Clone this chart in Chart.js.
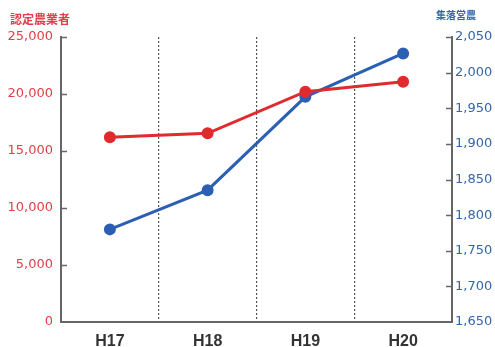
<!DOCTYPE html>
<html>
<head>
<meta charset="utf-8">
<script src="https://cdn.jsdelivr.net/npm/chart.js@4/dist/chart.umd.min.js"></script>
<style>
  html, body { margin: 0; padding: 0; background: #fff; }
  #wrap { width: 495px; height: 347px; }
</style>
</head>
<body>
<div id="wrap"><canvas id="c" width="495" height="347"></canvas></div>
<script>
const categories = ['H17', 'H18', 'H19', 'H20'];
const farmers = [16200, 16550, 20200, 21080];   // 認定農業者 (left axis)
const groups = [1780, 1835, 1966, 2027];        // 集落営農 (right axis)
const leftTitle = '認定農業者';
const rightTitle = '集落営農';
const leftRange = { min: 0, max: 25000, step: 5000 };
const rightRange = { min: 1650, max: 2050, step: 50 };

const RED = '#e02a2e';
const BLUE = '#2b5fb4';
const RED_TXT = '#e0404a';
const BLUE_TXT = '#3566a8';
const AXIS = '#666';

const fmt = v => Number(v).toLocaleString('en-US');

const extras = {
  id: 'extras',
  beforeDatasetsDraw(chart) {
    const ctx = chart.ctx;
    ctx.save();
    ctx.strokeStyle = AXIS;
    ctx.lineWidth = 1.5;
    const y = chart.scales.y, y1 = chart.scales.y1;
    y.ticks.forEach(t => {
      if (t.value === leftRange.min) return;
      const py = Math.round(y.getPixelForValue(t.value)) + 0.5;
      ctx.beginPath(); ctx.moveTo(y.right, py); ctx.lineTo(y.right + 6, py); ctx.stroke();
    });
    y1.ticks.forEach(t => {
      if (t.value === rightRange.min) return;
      const py = Math.round(y1.getPixelForValue(t.value)) + 0.5;
      ctx.beginPath(); ctx.moveTo(y1.left - 6, py); ctx.lineTo(y1.left, py); ctx.stroke();
    });
    ctx.restore();
  },
  afterDraw(chart) {
    const ctx = chart.ctx;
    ctx.save();
    ctx.textBaseline = 'middle';
    ctx.textAlign = 'left';
    ctx.fillStyle = RED_TXT;
    ctx.font = 'bold 12px "Noto Sans CJK JP"';
    ctx.fillText(leftTitle, 10, 19);
    ctx.fillStyle = BLUE_TXT;
    ctx.font = 'bold 10px "Noto Sans CJK JP"';
    ctx.fillText(rightTitle, 436, 15);
    ctx.restore();
  }
};

new Chart(document.getElementById('c'), {
  type: 'line',
  data: {
    labels: categories,
    datasets: [
      {
        label: leftTitle, data: farmers, yAxisID: 'y',
        borderColor: RED, backgroundColor: RED, pointBackgroundColor: RED, pointBorderColor: RED,
        borderWidth: 3, pointRadius: 4.5, tension: 0
      },
      {
        label: rightTitle, data: groups, yAxisID: 'y1',
        borderColor: BLUE, backgroundColor: BLUE, pointBackgroundColor: BLUE, pointBorderColor: BLUE,
        borderWidth: 3, pointRadius: 4.5, tension: 0
      }
    ]
  },
  options: {
    responsive: false,
    animation: false,
    layout: { padding: { top: 37, left: 0, right: 0, bottom: 0 } },
    plugins: { legend: { display: false }, tooltip: { enabled: false }, title: { display: false } },
    scales: {
      x: {
        type: 'category',
        offset: true,
        grid: {
          display: true, offset: true, drawTicks: false, lineWidth: 1.2,
          color: c => (c.index === 0 || c.index === categories.length) ? 'rgba(0,0,0,0)' : '#555'
        },
        border: { display: true, color: AXIS, width: 2, dash: [2, 2] },
        ticks: { color: '#333', padding: 10, font: { family: '"Liberation Sans", Arial', size: 16, weight: 'bold' } },
        afterFit: s => { s.height = 25; }
      },
      y: {
        position: 'left',
        min: leftRange.min, max: leftRange.max,
        grid: { display: false, drawTicks: false },
        border: { display: true, color: AXIS, width: 2 },
        ticks: { stepSize: leftRange.step, color: RED_TXT, padding: 8, callback: v => fmt(v),
                 font: { family: '"DejaVu Sans"', size: 13 } },
        afterFit: s => { s.width = 61; }
      },
      y1: {
        position: 'right',
        min: rightRange.min, max: rightRange.max,
        grid: { display: false, drawTicks: false },
        border: { display: true, color: AXIS, width: 2 },
        ticks: { stepSize: rightRange.step, color: BLUE_TXT, padding: 3, callback: v => fmt(v),
                 font: { family: '"DejaVu Sans"', size: 13 } },
        afterFit: s => { s.width = 43; }
      }
    }
  },
  plugins: [extras]
});
</script>
</body>
</html>
